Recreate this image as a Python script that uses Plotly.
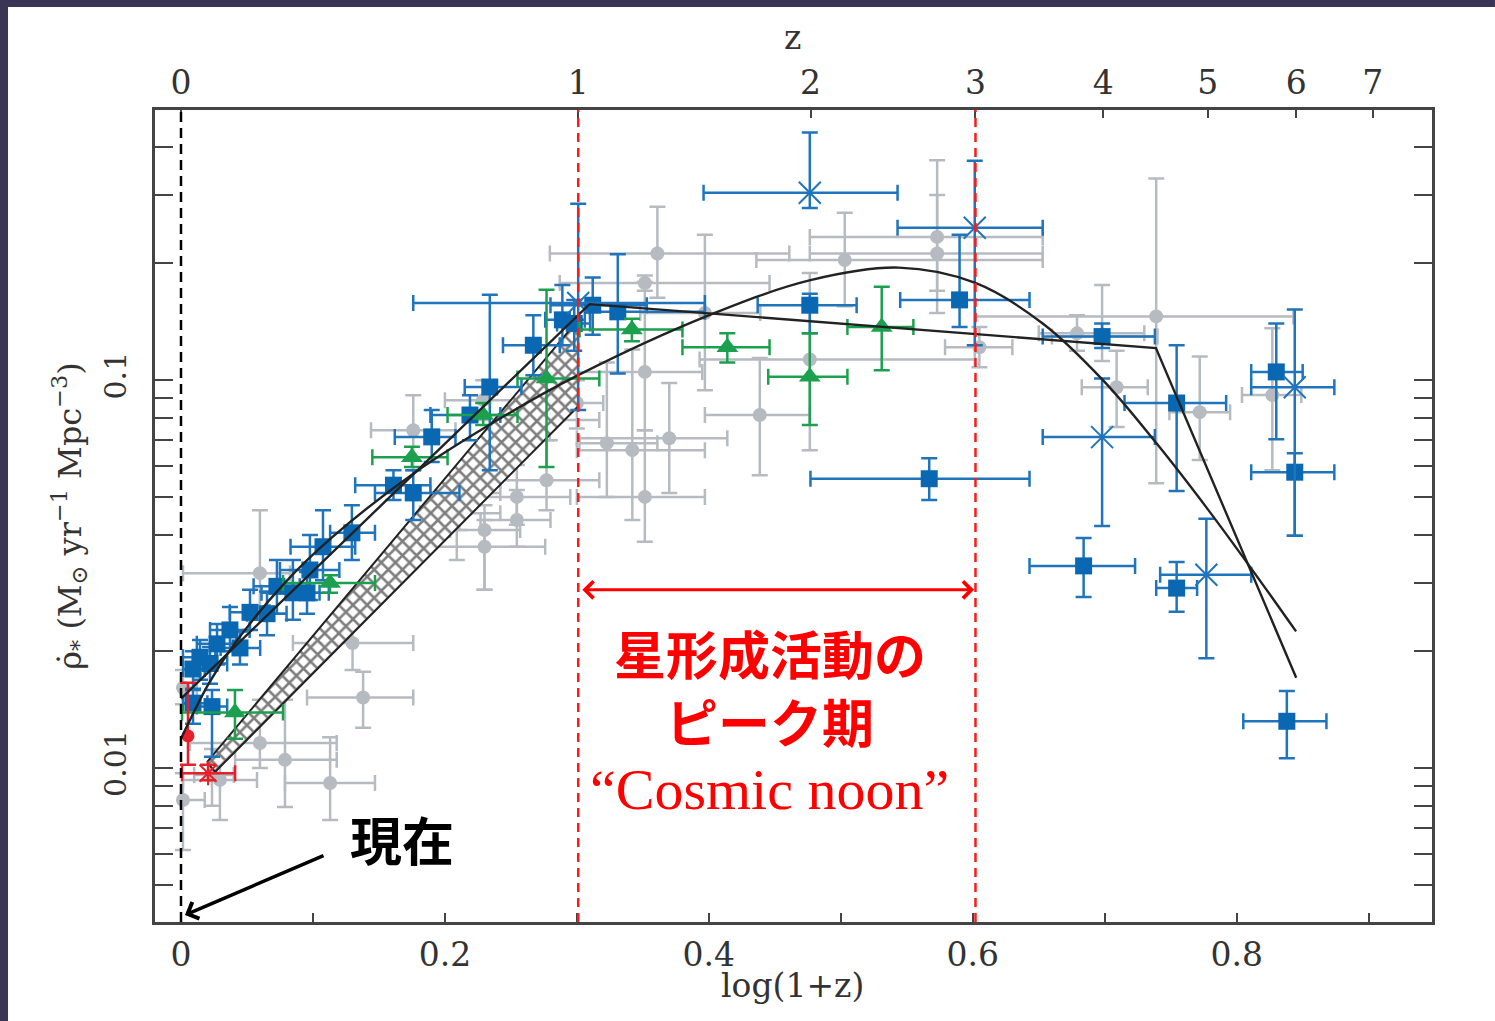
import numpy as np
import plotly.graph_objects as go

# ---------------- data (x = log(1+z), y = SFR density) ----------------
# gray circles
gray_x   = [0.0015, 0.0015, 0.0235, 0.0295, 0.0598, 0.0788, 0.113, 0.130, 0.138, 0.0598,
            0.176, 0.209, 0.211, 0.230, 0.230, 0.2545, 0.2545, 0.277, 0.2795, 0.300, 0.229,
            0.3227, 0.342, 0.370, 0.3515, 0.4386, 0.3515, 0.361, 0.3515, 0.503, 0.573, 0.573,
            0.397, 0.4765, 0.605, 0.739, 0.679, 0.698, 0.709, 0.772, 0.827]
gray_y   = [0.00827, 0.0161, 0.0096, 0.00932, 0.0116, 0.0105, 0.00915, 0.0210, 0.0152, 0.0318,
            0.0743, 0.0454, 0.0512, 0.0411, 0.0372, 0.0500, 0.0436, 0.0552, 0.0789, 0.0873, 0.0888,
            0.0688, 0.0660, 0.0708, 0.0500, 0.0813, 0.105, 0.212, 0.178, 0.204, 0.234, 0.212,
            0.149, 0.113, 0.1215, 0.146, 0.132, 0.1295, 0.0959, 0.0827, 0.0915]
gray_xlo = [0.0, 0.0, 0.010, 0.0015, 0.0068, 0.041, 0.0788, 0.0848, 0.0955, 0.0015,
            0.144, 0.181, 0.189, 0.204, 0.181, 0.219, 0.227, 0.242, 0.250, 0.280, 0.200,
            0.302, 0.300, 0.300, 0.300, 0.397, 0.2795, 0.2795, 0.287, 0.436, 0.4765, 0.4765,
            0.348, 0.393, 0.579, 0.602, 0.650, 0.660, 0.6826, 0.749, 0.804]
gray_xhi = [0.018, 0.012, 0.040, 0.0576, 0.118, 0.118, 0.147, 0.176, 0.176, 0.0826,
            0.208, 0.242, 0.242, 0.257, 0.276, 0.295, 0.280, 0.317, 0.317, 0.320, 0.260,
            0.361, 0.397, 0.414, 0.397, 0.4765, 0.395, 0.461, 0.446, 0.653, 0.653, 0.653,
            0.439, 0.6015, 0.630, 0.843, 0.730, 0.740, 0.7326, 0.795, 0.849]
gray_ylo = [0.00615, 0.0146, 0.0080, 0.00735, 0.0100, 0.00794, 0.00735, 0.0179, 0.0127, 0.0241,
            0.0586, 0.0344, 0.0411, 0.0288, 0.0288, 0.0424, 0.0372, 0.0462, 0.0700, 0.0750, 0.0789,
            0.0500, 0.0436, 0.0512, 0.0383, 0.0569, 0.0743, 0.163, 0.170, 0.155, 0.149, 0.170,
            0.0942, 0.066, 0.108, 0.0542, 0.119, 0.112, 0.0757, 0.0622, 0.0586]
gray_yhi = [0.0097, 0.0179, 0.0112, 0.0111, 0.0150, 0.0150, 0.0120, 0.0268, 0.0177, 0.0462,
            0.0914, 0.0552, 0.0586, 0.0476, 0.0436, 0.0604, 0.0521, 0.070, 0.0914, 0.100, 0.100,
            0.111, 0.120, 0.0983, 0.0743, 0.114, 0.179, 0.280, 0.186, 0.270, 0.369, 0.300,
            0.237, 0.189, 0.137, 0.331, 0.147, 0.176, 0.119, 0.115, 0.136]

# blue squares
bsq_x   = [0.312, 0.331, 0.4765, 0.590, 0.567, 0.698, 0.7545, 0.830, 0.844, 0.684, 0.7545, 0.838,
           0.289, 0.298, 0.267, 0.234, 0.219, 0.190, 0.161, 0.176, 0.1295, 0.1076, 0.0977, 0.0848,
           0.0955, 0.0727, 0.0523, 0.0652, 0.0371, 0.0273, 0.0144, 0.0091, 0.022, 0.0447, 0.0091, 0.0235]
bsq_y   = [0.156, 0.150, 0.156, 0.161, 0.0557, 0.1295, 0.0873, 0.105, 0.0579, 0.0332, 0.0291, 0.0132,
           0.143, 0.140, 0.123, 0.096, 0.0813, 0.0714, 0.0536, 0.0512, 0.0404, 0.0372, 0.0324, 0.0283,
           0.0283, 0.0294, 0.0252, 0.0250, 0.0227, 0.0209, 0.0193, 0.0180, 0.0186, 0.0204, 0.0147, 0.0144]
bsq_xlo = [0.280, 0.310, 0.437, 0.545, 0.477, 0.653, 0.715, 0.811, 0.811, 0.643, 0.739, 0.805,
           0.276, 0.285, 0.244, 0.215, 0.189, 0.162, 0.132, 0.147, 0.113, 0.083, 0.075, 0.061,
           0.080, 0.055, 0.037, 0.050, 0.022, 0.012, 0.0015, 0.0015, 0.010, 0.030, 0.0015, 0.012]
bsq_xhi = [0.353, 0.397, 0.512, 0.643, 0.643, 0.738, 0.792, 0.850, 0.874, 0.723, 0.770, 0.868,
           0.306, 0.310, 0.287, 0.258, 0.242, 0.208, 0.189, 0.211, 0.147, 0.132, 0.120, 0.105,
           0.112, 0.090, 0.067, 0.080, 0.052, 0.042, 0.026, 0.018, 0.035, 0.060, 0.020, 0.035]
bsq_ylo = [0.131, 0.104, 0.132, 0.137, 0.0491, 0.121, 0.0518, 0.0704, 0.0397, 0.0276, 0.0253, 0.0106,
           0.123, 0.119, 0.103, 0.0586, 0.070, 0.0615, 0.0491, 0.0436, 0.0344, 0.0305, 0.0271, 0.0241,
           0.0250, 0.0250, 0.0227, 0.0220, 0.0200, 0.0185, 0.0169, 0.0160, 0.0165, 0.0185, 0.0130, 0.0107]
bsq_yhi = [0.184, 0.211, 0.167, 0.237, 0.0629, 0.140, 0.123, 0.140, 0.0648, 0.0392, 0.0340, 0.0158,
           0.176, 0.161, 0.147, 0.166, 0.0914, 0.0837, 0.0586, 0.0586, 0.0476, 0.0462, 0.0399, 0.0344,
           0.0320, 0.0344, 0.0288, 0.0285, 0.0260, 0.0235, 0.0214, 0.0200, 0.0205, 0.0225, 0.0159, 0.0159]

# blue crosses
bx_x   = [0.301, 0.4765, 0.6015, 0.698, 0.844, 0.777]
bx_y   = [0.158, 0.304, 0.247, 0.0713, 0.0959, 0.0315]
bx_xlo = [0.176, 0.396, 0.543, 0.653, 0.811, 0.742]
bx_xhi = [0.397, 0.543, 0.653, 0.738, 0.874, 0.811]
bx_ylo = [0.0837, 0.278, 0.123, 0.0421, 0.0397, 0.0192]
bx_yhi = [0.285, 0.435, 0.368, 0.101, 0.152, 0.0439]

# green triangles
gr_x   = [0.3417, 0.414, 0.4765, 0.531, 0.277, 0.229, 0.175, 0.1129, 0.0409]
gr_y   = [0.135, 0.1215, 0.102, 0.137, 0.101, 0.0813, 0.0633, 0.0300, 0.0139]
gr_xlo = [0.302, 0.380, 0.445, 0.505, 0.255, 0.202, 0.145, 0.0773, 0.0008]
gr_xhi = [0.380, 0.446, 0.505, 0.555, 0.317, 0.255, 0.202, 0.147, 0.0773]
gr_ylo = [0.126, 0.111, 0.0766, 0.106, 0.0597, 0.0766, 0.0597, 0.0283, 0.0119]
gr_yhi = [0.144, 0.132, 0.132, 0.174, 0.171, 0.0873, 0.0673, 0.0314, 0.0159]

# red points (circle, star)
rc_x, rc_y, rc_ylo, rc_yhi = [0.0053], [0.0121], [0.0102], [0.0166]
rs_x, rs_y = [0.0205], [0.0097]
rs_xlo, rs_xhi, rs_ylo, rs_yhi = [0.0008], [0.041], [0.0093], [0.0102]

# hatched band
band_x = [0.0197, 0.3008, 0.3008, 0.0258, 0.0197]
band_y = [0.01036, 0.1428, 0.0855, 0.00977, 0.01036]

# piecewise-linear fit
pw_x = [0.0, 0.3096, 0.7388, 0.8451]
pw_y = [0.0151, 0.157, 0.121, 0.0171]

# smooth fit
sm_x = [0.0, 0.021, 0.041, 0.079, 0.114, 0.176, 0.243, 0.301, 0.398, 0.477, 0.544,
        0.602, 0.653, 0.699, 0.740, 0.778, 0.813, 0.845]
sm_y = [0.0119, 0.0165, 0.0210, 0.0301, 0.0392, 0.0574, 0.0801, 0.103, 0.146, 0.181, 0.195,
        0.178, 0.140, 0.0997, 0.0682, 0.0465, 0.0320, 0.0225]

# axis ticks
x_ticks = [0.0, 0.2, 0.4, 0.6, 0.8]
x_ticktext = ["0", "0.2", "0.4", "0.6", "0.8"]
x_minor = [0.1, 0.3, 0.5, 0.7, 0.9]
z_labels = [0, 1, 2, 3, 4, 5, 6, 7]
y_ticks = [0.01, 0.1]
y_ticktext = ["0.01", "0.1"]
y_minor = [0.005, 0.006, 0.007, 0.008, 0.009, 0.02, 0.03, 0.04, 0.05, 0.06, 0.07, 0.08, 0.09,
           0.2, 0.3, 0.4]

# ---------------- styling ----------------
GRAY, BLUE, BLUE_E, GREEN, RED = "#b6bbc2", "#0a67b2", "#1f74bb", "#1ca04e", "#e8202a"
SERIF = "DejaVu Serif"
JP = "Noto Sans CJK JP"
TXT = "#333333"


def errs(v, lo, hi, color, width=8, thick=2.5):
    return dict(type="data", symmetric=False,
                array=[h - c for c, h in zip(v, hi)],
                arrayminus=[c - l for c, l in zip(v, lo)],
                color=color, thickness=thick, width=width)


fig = go.Figure()

fig.add_trace(go.Scatter(
    x=gray_x, y=gray_y, mode="markers",
    marker=dict(symbol="circle", size=14, color=GRAY),
    error_x=errs(gray_x, gray_xlo, gray_xhi, GRAY),
    error_y=errs(gray_y, gray_ylo, gray_yhi, GRAY)))

fig.add_trace(go.Scatter(
    x=band_x, y=band_y, mode="lines", fill="toself",
    fillcolor="white",
    fillpattern=dict(shape="x", fgcolor="#000000", bgcolor="rgba(255,255,255,0.9)",
                     size=10, solidity=0.45),
    line=dict(color="#222222", width=2)))

fig.add_trace(go.Scatter(
    x=bsq_x, y=bsq_y, mode="markers",
    marker=dict(symbol="square", size=17, color=BLUE),
    error_x=errs(bsq_x, bsq_xlo, bsq_xhi, BLUE_E),
    error_y=errs(bsq_y, bsq_ylo, bsq_yhi, BLUE_E)))

fig.add_trace(go.Scatter(
    x=bx_x, y=bx_y, mode="markers",
    marker=dict(symbol="x-thin-open", size=22, color=BLUE_E, line=dict(color=BLUE_E, width=2)),
    error_x=errs(bx_x, bx_xlo, bx_xhi, BLUE_E),
    error_y=errs(bx_y, bx_ylo, bx_yhi, BLUE_E)))

fig.add_trace(go.Scatter(
    x=gr_x, y=gr_y, mode="markers",
    marker=dict(symbol="triangle-up", size=19, color=GREEN),
    error_x=errs(gr_x, gr_xlo, gr_xhi, GREEN),
    error_y=errs(gr_y, gr_ylo, gr_yhi, GREEN)))

fig.add_trace(go.Scatter(
    x=rc_x, y=rc_y, mode="markers",
    marker=dict(symbol="circle", size=13, color=RED),
    error_y=errs(rc_y, rc_ylo, rc_yhi, RED)))

fig.add_trace(go.Scatter(
    x=rs_x, y=rs_y, mode="markers",
    marker=dict(symbol="asterisk-open", size=20, color=RED, line=dict(color=RED, width=2)),
    error_x=errs(rs_x, rs_xlo, rs_xhi, RED),
    error_y=errs(rs_y, rs_ylo, rs_yhi, RED)))

fig.add_trace(go.Scatter(x=pw_x, y=pw_y, mode="lines",
                         line=dict(color="#222222", width=2.4)))
fig.add_trace(go.Scatter(x=sm_x, y=sm_y, mode="lines",
                         line=dict(color="#222222", width=2.4, shape="spline")))

# invisible trace to activate the top (redshift) axis
fig.add_trace(go.Scatter(x=[pw_x[0]], y=[pw_y[0]], xaxis="x2", mode="markers",
                         marker=dict(opacity=0), hoverinfo="skip"))

axis_common = dict(showline=True, linecolor="#444444", linewidth=2.5, ticks="inside",
                   tickcolor="#444444", tickwidth=2, showgrid=False, zeroline=False)
XR = [-0.0197, 0.948]

fig.update_layout(
    width=1495, height=1021,
    margin=dict(l=155, r=63, t=110, b=99),
    paper_bgcolor="white", plot_bgcolor="white",
    showlegend=False,
    xaxis=dict(**axis_common, range=XR, tickmode="array", tickvals=x_ticks,
               ticktext=x_ticktext, ticklen=9,
               minor=dict(tickvals=x_minor, ticks="inside", ticklen=9, tickwidth=2,
                          tickcolor="#444444"),
               tickfont=dict(family=SERIF, size=33, color=TXT),
               ticklabelstandoff=2),
    xaxis2=dict(**axis_common, range=XR, overlaying="x", side="top", anchor="y",
                tickmode="array", tickvals=list(np.log10(1 + np.array(z_labels))),
                ticktext=[str(z) for z in z_labels], ticklen=8,
                tickfont=dict(family=SERIF, size=33, color=TXT),
                ticklabelstandoff=0),
    yaxis=dict(**axis_common, type="log", range=[np.log10(0.00401), np.log10(0.497)],
               tickmode="array", tickvals=y_ticks, ticktext=y_ticktext, ticklen=18,
               tickangle=-90, mirror="allticks",
               minor=dict(tickvals=y_minor, ticks="inside", ticklen=10, tickwidth=2,
                          tickcolor="#444444"),
               tickfont=dict(family=SERIF, size=30, color=TXT),
               ticklabelstandoff=14,
               title=dict(text="ρ\u0307<sub>*</sub> (M<sub>⊙</sub> yr<sup>−1</sup> Mpc<sup>−3</sup>)",
                          font=dict(family=SERIF, size=32, color=TXT), standoff=8)),
)

# axis titles placed as paper annotations
fig.add_annotation(xref="paper", yref="paper", x=0.4996, y=-0.0776, text="log(1+z)",
                   xanchor="center", yanchor="middle",
                   showarrow=False, font=dict(family=SERIF, size=33, color=TXT))
fig.add_annotation(xref="paper", yref="paper", x=0.4996, y=1.0887, text="z",
                   xanchor="center", yanchor="middle",
                   showarrow=False, font=dict(family=SERIF, size=33, color=TXT))

# vertical dashed markers
fig.add_shape(type="line", xref="x", yref="paper", x0=0, x1=0, y0=0, y1=1,
              line=dict(color="black", width=2.5, dash="10px,6px"))
for zv in [1, 3]:
    xv = float(np.log10(1 + zv))
    fig.add_shape(type="line", xref="x", yref="paper", x0=xv, x1=xv, y0=0, y1=1,
                  line=dict(color="#ff1a1a", width=2.5, dash="9px,6px"))

# navy slide border
NAVY = "#3a3555"
fig.add_shape(type="rect", xref="paper", yref="paper", x0=-0.1214, x1=1.0493,
              y0=1.1268, y1=1.1355, fillcolor=NAVY, line=dict(width=0), layer="below")
fig.add_shape(type="rect", xref="paper", yref="paper", x0=-0.1214, x1=-0.1151,
              y0=-0.1219, y1=1.1355, fillcolor=NAVY, line=dict(width=0), layer="below")

# double arrow marking cosmic noon
arr_y = float(np.log10(0.0288))
fig.add_annotation(x=0.6010, y=arr_y, ax=0.3030, ay=arr_y, xref="x", yref="y",
                   axref="x", ayref="y", text="", showarrow=True,
                   arrowside="end+start", arrowhead=4, startarrowhead=4,
                   arrowsize=1.1, startarrowsize=1.1, arrowwidth=3, arrowcolor="#ff0000")

fig.add_annotation(x=0.446, y=float(np.log10(0.0162)), text="<b>星形成活動の<br>ピーク期</b>",
                   showarrow=False, font=dict(family=JP, size=52, color="#ff0000"))
fig.add_annotation(x=0.446, y=float(np.log10(0.00878)), text="“Cosmic noon”",
                   showarrow=False, font=dict(family="Liberation Serif", size=58, color="#ff0000"))

# "now" label with arrow
fig.add_annotation(x=0.1674, y=float(np.log10(0.0066)), text="<b>現在</b>",
                   showarrow=False, font=dict(family=JP, size=52, color="black"))
fig.add_annotation(x=0.003, y=float(np.log10(0.00418)), ax=140, ay=-60, text="",
                   showarrow=True, arrowhead=4, arrowsize=1, arrowwidth=3.5,
                   arrowcolor="black")

fig.write_html("out.html", config={"displayModeBar": False},
               post_script="document.body.style.margin='0px';")
